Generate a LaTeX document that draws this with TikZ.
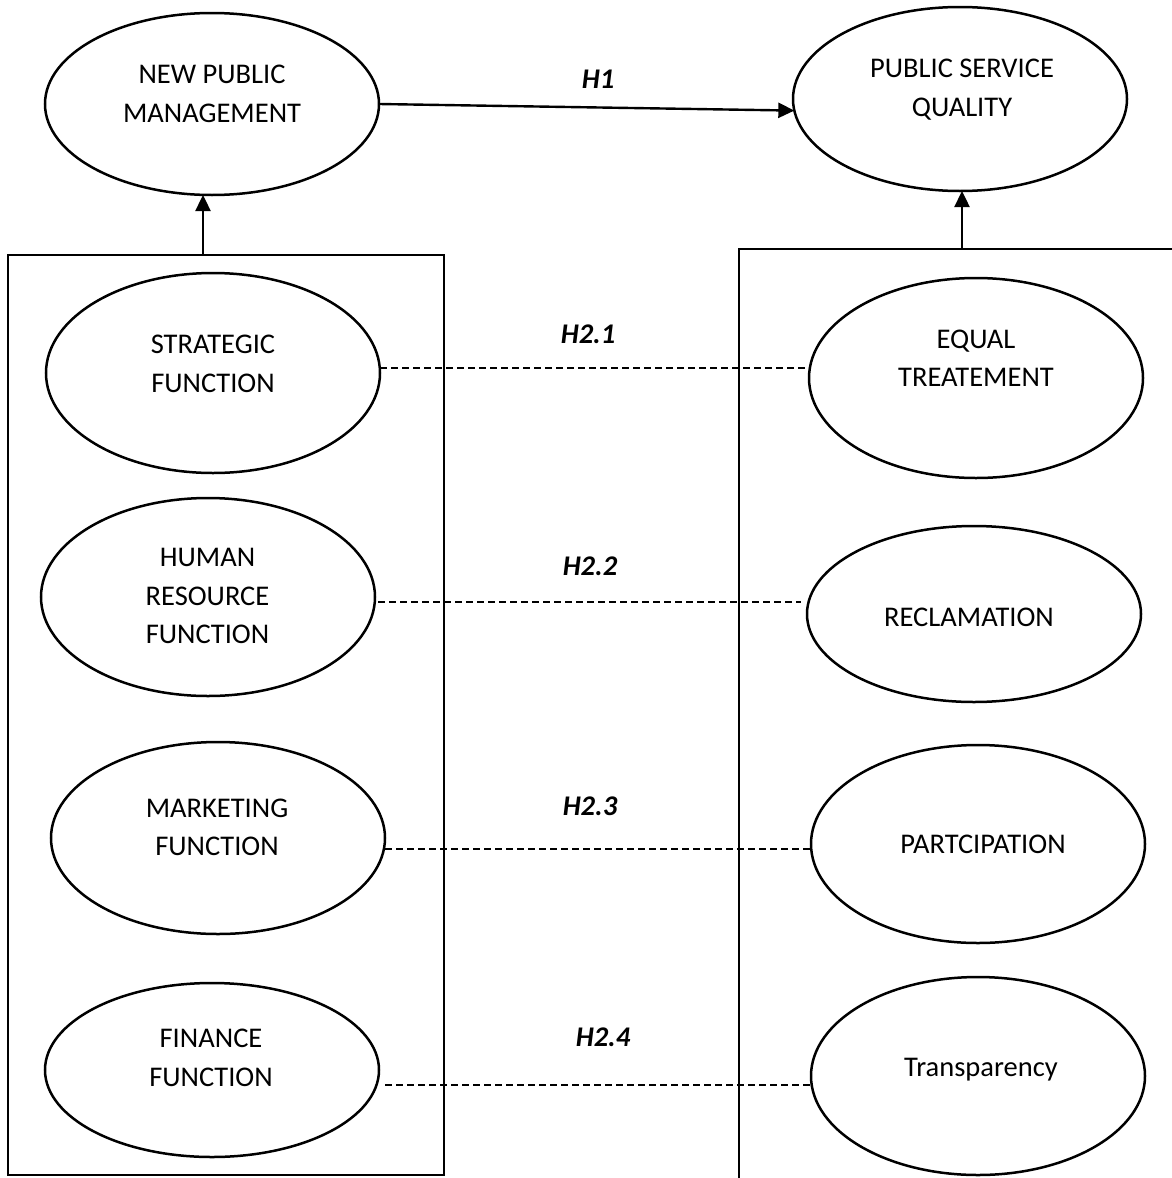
\documentclass[tikz,border=0pt]{standalone}
\usepackage{fontspec}
\setmainfont{Carlito}
\usetikzlibrary{shapes.geometric,arrows.meta}
\begin{document}
\begin{tikzpicture}[x=1pt,y=-1pt,
  ell/.style={draw, ellipse, line width=2.5pt, inner sep=0pt, outer sep=0pt, minimum width=334pt},
  lbl/.style={align=center, inner sep=0pt, font=\fontsize{28.5pt}{38.5pt}\selectfont},
  hyp/.style={inner sep=0pt, font=\fontsize{28.5pt}{38.5pt}\selectfont\bfseries\itshape},
  frame/.style={line width=2.4pt},
  conn/.style={line width=2.4pt, -{Triangle[length=16pt,width=15pt]}},
  dline/.style={line width=1.7pt, dash pattern=on 7pt off 4pt}]
\useasboundingbox (0,0) rectangle (1172,1178);
\clip (0,0) rectangle (1172,1178);
\fill[white] (0,0) rectangle (1172,1178);

% frames
\node[frame, draw, inner sep=0pt, outer sep=0pt, minimum width=436pt, minimum height=920pt] (lbox) at (226,715) {};
\draw[frame] (739,1200) -- (739,249) -- (1200,249);
\coordinate (a1) at (203,255);
\coordinate (a2) at (962,249);

% top ellipses
\node[ell, minimum height=182pt] (npm) at (212,104) {};
\node[ell, minimum height=184pt] (psq) at (960,99) {};
\node[lbl] (tnpm) at (212,94) {NEW PUBLIC\\MANAGEMENT};
\node[lbl] (tpsq) at (962,89.5) {PUBLIC SERVICE\\QUALITY};

% left ellipses
\node[ell, minimum height=200pt] (strat) at (213,373) {};
\node[ell, minimum height=198pt] (hr) at (208,597) {};
\node[ell, minimum height=192pt] (mkt) at (218,838) {};
\node[ell, minimum height=174pt] (fin) at (212,1070) {};
\node[lbl] (tstrat) at (213,364) {STRATEGIC\\FUNCTION};
\node[lbl] (thr) at (207.5,596) {HUMAN\\RESOURCE\\FUNCTION};
\node[lbl] (tmkt) at (217,827.5) {MARKETING\\FUNCTION};
\node[lbl] (tfin) at (211,1058) {FINANCE\\FUNCTION};

% right ellipses
\node[ell, minimum height=200pt] (eq) at (976,378) {};
\node[ell, minimum height=176pt] (rec) at (974,614) {};
\node[ell, minimum height=198pt] (par) at (978,844) {};
\node[ell, minimum height=198pt] (tra) at (978,1076) {};
\node[lbl] (teq) at (976,358) {EQUAL\\TREATEMENT};
\node[lbl] (trec) at (969,617.5) {RECLAMATION};
\node[lbl] (tpar) at (983,844.5) {PARTCIPATION};
\node[lbl] (ttra) at (981,1069.5) {Transparency};

% hypothesis labels
\node[hyp] (h1) at (598,79) {H1};
\node[hyp] (h21) at (588,334) {H2.1};
\node[hyp] (h22) at (590,566) {H2.2};
\node[hyp] (h23) at (590,806) {H2.3};
\node[hyp] (h24) at (603,1037) {H2.4};

% connectors
\draw[conn] (npm.east) -- (psq.184);
\draw[conn] (a1) -- (a1 |- npm.south);
\draw[conn] (a2) -- (a2 |- psq.south);

\draw[dline] (strat.east |- 0,368) -- (eq.west |- 0,368);
\draw[dline] ([xshift=3pt]hr.east |- 0,602) -- ([xshift=-6pt]rec.west |- 0,602);
\draw[dline] (mkt.east |- 0,849) -- (par.west |- 0,849);
\draw[dline] ([xshift=6pt]fin.east |- 0,1085) -- (tra.west |- 0,1085);
\end{tikzpicture}
\end{document}
